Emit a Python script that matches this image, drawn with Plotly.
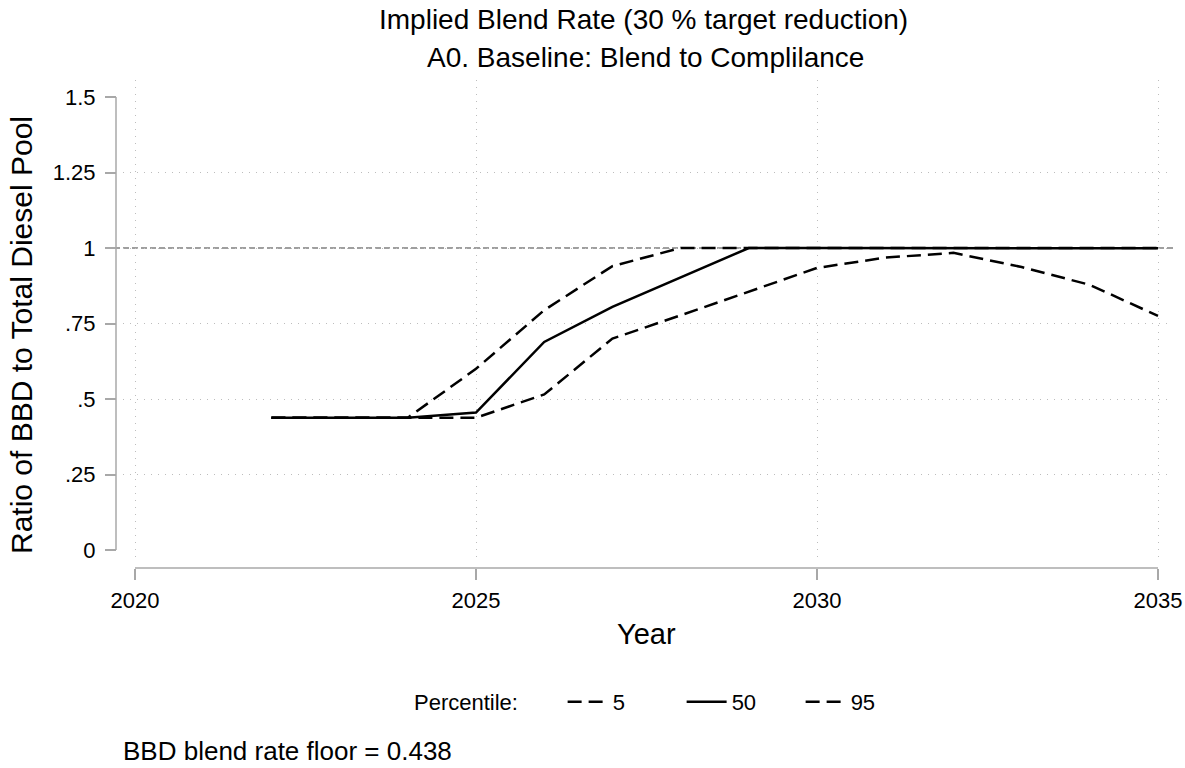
import plotly.graph_objects as go

# ---------------- data ----------------
years = list(range(2022, 2036))
p5 = [0.438, 0.438, 0.438, 0.438, 0.515, 0.700, 0.777, 0.855, 0.934, 0.968, 0.984, 0.937, 0.878, 0.775]
p50 = [0.438, 0.438, 0.438, 0.455, 0.689, 0.805, 0.903, 1.0, 1.0, 1.0, 1.0, 1.0, 1.0, 0.999]
p95 = [0.438, 0.438, 0.438, 0.600, 0.794, 0.940, 1.0, 1.0, 1.0, 1.0, 1.0, 1.0, 1.0, 1.0]
series_names = ["5", "50", "95"]
x_ticks = [2020, 2025, 2030, 2035]
y_ticks = [0, 0.25, 0.5, 0.75, 1.0, 1.25, 1.5]
y_ticktext = ["0", ".25", ".5", ".75", "1", "1.25", "1.5"]
y_grid = [0.25, 0.5, 0.75, 1.0, 1.25]
ref_value = 1.0

title1 = "Implied Blend Rate (30 % target reduction)"
title2 = "A0. Baseline: Blend to Complilance"
x_title = "Year"
y_title = "Ratio of BBD to Total Diesel Pool"
legend_title = "Percentile:"
note = "BBD blend rate floor = 0.438"

# ---------------- layout geometry (pixels) ----------------
W, H = 1185, 768
FONT = "Liberation Sans, Arial, Helvetica, sans-serif"

# data range 2020..2035 -> px 135..1158 ; 0..1.5 -> px 550..97
px_per_year = (1158 - 135) / 15.0
px_per_unit = (550 - 97) / 1.5
plot_left, plot_right, plot_top, plot_bottom = 123, 1170, 80, 562
xr = [2020 - (135 - plot_left) / px_per_year, 2035 + (plot_right - 1158) / px_per_year]
yr = [0 - (plot_bottom - 550) / px_per_unit, 1.5 + (97 - plot_top) / px_per_unit]

def px(xp):
    return xp / W

def py(yp):
    return 1 - yp / H

axis_gray = "#a8a8a8"
grid_gray = "#bdbdbd"

fig = go.Figure()
dash_long = "14px,7px"
for name, vals, dash in zip(series_names, [p5, p50, p95], [dash_long, "solid", dash_long]):
    fig.add_trace(go.Scatter(
        x=years, y=vals, mode="lines", name=name,
        line=dict(color="black", width=2.5, dash=dash),
    ))

fig.update_layout(
    width=W, height=H,
    margin=dict(l=0, r=0, t=0, b=0, autoexpand=False),
    paper_bgcolor="white", plot_bgcolor="white",
    font=dict(family=FONT, color="black", size=22),
    showlegend=True,
    legend=dict(
        orientation="h", x=px(412), xanchor="left", y=py(702), yanchor="middle",
        title=dict(text=legend_title + "\u00a0" * 6, side="left", font=dict(size=22)),
        font=dict(size=22), entrywidth=64, itemwidth=40,
        bgcolor="rgba(0,0,0,0)",
    ),
    xaxis=dict(
        domain=[px(plot_left), px(plot_right)], range=xr,
        anchor="free", position=py(568), automargin=False,
        tickvals=x_ticks, ticks="outside", ticklen=11, tickwidth=1.5, tickcolor=axis_gray,
        showline=False, zeroline=False,
        showgrid=True, gridcolor=grid_gray, griddash="1px,6px", gridwidth=1.2,
        tickfont=dict(size=22), ticklabelstandoff=2,
    ),
    yaxis=dict(
        domain=[py(plot_bottom), py(plot_top)], range=yr,
        anchor="free", position=px(116), automargin=False,
        tickvals=y_ticks, ticktext=y_ticktext, ticks="outside", ticklen=11, tickwidth=1.5,
        tickcolor=axis_gray, showline=False, zeroline=False, showgrid=False,
        minor=dict(tickvals=y_grid, showgrid=True, gridcolor=grid_gray, griddash="1px,6px",
                   gridwidth=1.2, ticks=""),
        tickfont=dict(size=22), ticklabelstandoff=5,
    ),
)

# axis lines (Stata-style offset axes)
fig.add_shape(type="line", xref="x", yref="paper", x0=x_ticks[0], x1=x_ticks[-1],
              y0=py(568), y1=py(568), line=dict(color=axis_gray, width=1.5))
fig.add_shape(type="line", xref="paper", yref="y", x0=px(116), x1=px(116),
              y0=y_ticks[0], y1=y_ticks[-1], line=dict(color=axis_gray, width=1.5))
# reference line at 1
fig.add_shape(type="line", xref="paper", yref="y", x0=px(105), x1=px(plot_right + 5),
              y0=ref_value, y1=ref_value, line=dict(color="#808080", width=1.5, dash="6px,3px"),
              layer="below")

annotations = [
    dict(text=title1, x=px(643), y=py(20), font=dict(size=28)),
    dict(text=title2, x=px(645), y=py(57), font=dict(size=28)),
    dict(text=x_title, x=px(647), y=py(634), font=dict(size=29)),
    dict(text=y_title, x=px(21), y=py(335), font=dict(size=30), textangle=-90),
    dict(text=note, x=px(121), y=py(751), font=dict(size=26), xanchor="left"),
]
for a in annotations:
    a.setdefault("xanchor", "center")
    fig.add_annotation(xref="paper", yref="paper", yanchor="middle", showarrow=False, **a)

fig.write_html("out.html")
